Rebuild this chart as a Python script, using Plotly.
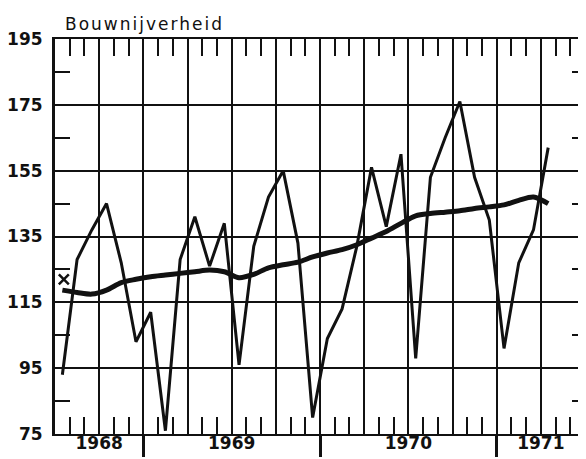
import plotly.graph_objects as go

# ---- data (monthly, x = months since July 1968, mid-month) ----
months = [i + 0.5 for i in range(34)]
raw = [93, 128, 137, 145, 127, 103, 112, 76, 128, 141, 126, 139,
       96, 132, 147, 155, 133, 80, 104, 113, 132, 156, 138, 160,
       98, 153, 165, 176, 153, 140, 101, 127, 137, 162]
trend = [118.7, 118.0, 117.5, 118.7, 121.0, 122.0, 122.8, 123.3, 123.8, 124.3, 124.8, 124.3,
         122.5, 123.5, 125.5, 126.4, 127.2, 128.8, 130.0, 131.0, 132.5, 134.5, 136.5, 139.0,
         141.3, 142.0, 142.4, 142.8, 143.5, 144.0, 144.6, 146.0, 147.0, 145.0]
marker_x = [0.6]
marker_y = [122]

year_pos = [3, 12, 24, 33]
year_labels = ["1968", "1969", "1970", "1971"]
year_bounds = [6, 18, 30]
quarters = [3, 9, 12, 15, 21, 24, 27, 33]
month_ticks = [m for m in range(1, 36) if m % 3 != 0]
y_major = [75, 95, 115, 135, 155, 175, 195]
y_minor = [85, 105, 125, 145, 165, 185]
title = "Bouwnijverheid"

INK = "#111111"
FONT = "DejaVu Sans"
XR = [0, 36]
YR = [75, 195]
TICKFONT = dict(family=FONT, size=17, color=INK, weight="bold")

fig = go.Figure()
fig.add_trace(go.Scatter(x=months, y=raw, mode="lines",
                         line=dict(color=INK, width=3), hoverinfo="skip"))
fig.add_trace(go.Scatter(x=months, y=trend, mode="lines",
                         line=dict(color=INK, width=5, shape="spline", smoothing=0.8),
                         hoverinfo="skip"))
fig.add_trace(go.Scatter(x=marker_x, y=marker_y, mode="markers",
                         marker=dict(symbol="x-thin", size=10,
                                     line=dict(color=INK, width=2.5)),
                         hoverinfo="skip"))
# dummy traces to register overlay axes
for xa, ya in [("x2", "y"), ("x3", "y"), ("x", "y2")]:
    fig.add_trace(go.Scatter(x=[None], y=[None], xaxis=xa, yaxis=ya,
                             mode="lines", hoverinfo="skip", showlegend=False))

# page body has an 8px margin, so the figure is sized/offset to compensate
fig.update_layout(
    template="none",
    width=578, height=451,
    margin=dict(l=47, r=1, t=31, b=25, pad=0),
    paper_bgcolor="white", plot_bgcolor="white",
    showlegend=False,
    font=dict(family=FONT, size=17, color=INK),
    xaxis=dict(range=XR, tickmode="array", tickvals=year_bounds,
               ticktext=["", "", ""], ticks="outside", ticklen=21, tickwidth=2.5,
               tickcolor=INK, showgrid=True, gridcolor=INK, gridwidth=2,
               showline=True, linecolor=INK, linewidth=2, mirror=True,
               zeroline=False, automargin=False,
               minor=dict(tickvals=quarters, ticks="", showgrid=True,
                          gridcolor=INK, gridwidth=1.6)),
    xaxis2=dict(range=XR, overlaying="x", anchor="y", side="bottom",
                tickmode="array", tickvals=month_ticks, ticks="inside",
                ticklen=17, tickwidth=2, tickcolor=INK, showticklabels=False,
                showgrid=False, zeroline=False, showline=True, linecolor=INK,
                linewidth=2, mirror="ticks", automargin=False),
    xaxis3=dict(range=XR, overlaying="x", anchor="y", side="bottom",
                tickmode="array", tickvals=year_pos, ticktext=year_labels,
                ticks="", showgrid=False, zeroline=False, showline=False,
                automargin=False, tickfont=TICKFONT, ticklabelstandoff=-3),
    yaxis=dict(range=YR, tickmode="array", tickvals=y_major,
               ticks="", showgrid=True, gridcolor=INK, gridwidth=1.6,
               showline=True, linecolor=INK, linewidth=3, mirror=True,
               zeroline=False, ticklabelstandoff=6, automargin=False,
               tickfont=TICKFONT,
               minor=dict(tickvals=y_minor, ticks="inside", ticklen=15,
                          tickwidth=2, tickcolor=INK, showgrid=False)),
    yaxis2=dict(range=YR, overlaying="y", anchor="x", side="right",
                tickmode="array", tickvals=y_minor, ticks="inside",
                ticklen=13, tickwidth=2, tickcolor=INK, showticklabels=False,
                showgrid=False, zeroline=False, showline=False, automargin=False),
    annotations=[dict(text='<span style="letter-spacing:2px">' + title + '</span>',
                      xref="paper", yref="paper", x=0.016, y=1.008,
                      xanchor="left", yanchor="bottom", showarrow=False,
                      font=dict(family=FONT, size=17, color=INK))],
)

fig.write_html("out.html")
